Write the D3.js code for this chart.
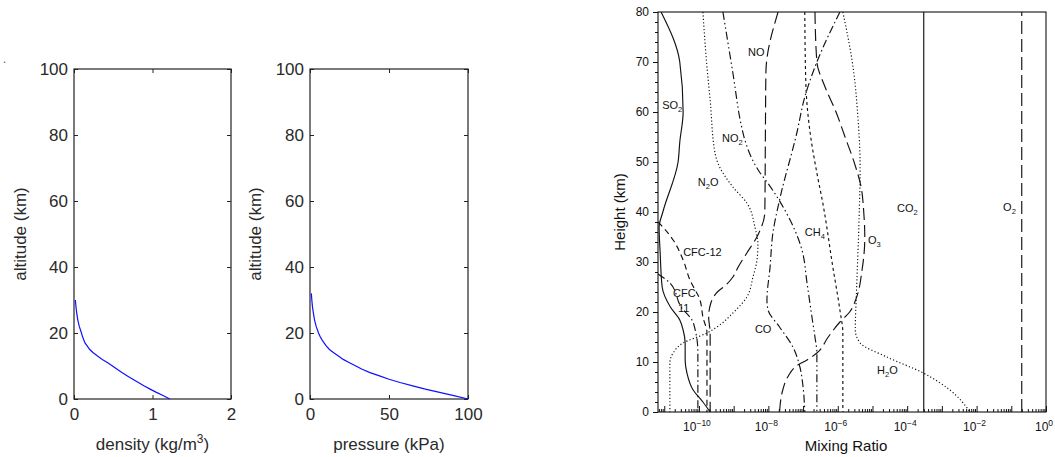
<!DOCTYPE html>
<html>
<head>
<meta charset="utf-8">
<script src="https://cdn.jsdelivr.net/npm/d3@7"></script>
<style>
  body { margin: 0; background: #fff; }
  svg { display: block; }
</style>
</head>
<body>
<svg id="chart" width="1055" height="457"></svg>
<script>

// ---- Left panels: standard atmosphere ----
var densityAltitude = [0,1,2,3,4,5,6,7,8,9,10,11,12,13,14,15,16,17,18,19,20,22,24,26,28,30];
var densityValue = [1.22,1.14,1.05,0.97,0.89,0.82,0.75,0.68,0.61,0.55,0.49,0.43,0.36,0.30,0.245,0.20,0.17,0.14,0.123,0.107,0.095,0.067,0.048,0.035,0.025,0.017];

var pressureAltitude = [0,1,2,3,4,5,6,7,8,9,10,11,12,13,14,15,16,17,18,19,20,22,24,26,28,30,32];
var pressureValue = [100,91,82,73,65,57,50,44,38,33,29,25,21,18,15,12.3,10.4,8.9,7.5,6.3,5.4,3.9,2.85,2.15,1.55,1.15,0.85];

var altitudeTicks = [0,20,40,60,80,100];
var densityTicks = [0,1,2];
var pressureTicks = [0,50,100];

// ---- Right panel: mixing ratio profiles (height km, mixing ratio) ----
var so2Height = [80,70,60,54,50,40,37,32,25,21,18.4,16.4,13.8,10.4,7.8,4.4,2,0];
var so2Ratio = [8.1e-12,2.8e-11,3.5e-11,2.8e-11,2.5e-11,9.1e-12,7.1e-12,7.6e-12,8.7e-12,1.5e-11,2.8e-11,3.5e-11,4.0e-11,4.0e-11,4.5e-11,6.8e-11,1.3e-10,2.1e-10];

var cfc11Height = [27.6,25.8,20.8,18.4,16.4,12,0];
var cfc11Ratio = [6.6e-12,1.45e-11,3.2e-11,6.3e-11,7.8e-11,9.3e-11,9.3e-11];

var cfc12Height = [38,37,34.4,30.4,26.4,22.4,19,15.8,0];
var cfc12Ratio = [6.6e-12,9.1e-12,1.8e-11,3.5e-11,5.5e-11,1.07e-10,1.3e-10,1.7e-10,1.7e-10];

var noHeight = [80,68,55,40,35.4,31.8,29,27,25.4,24,21.8,19,15.8,0];
var noRatio = [1.9e-8,8.5e-9,8.2e-9,7.9e-9,5.0e-9,2.4e-9,1.35e-9,9.5e-10,6.0e-10,3.4e-10,2.2e-10,1.9e-10,2.1e-10,2.1e-10];

var n2oHeight = [80,69,62.4,51.8,49.8,45,41.8,37,33.4,30.4,27,23,19.8,17,15.8,13.8,11.8,9.8,0];
var n2oRatio = [1.3e-10,1.7e-10,2.1e-10,2.9e-10,3.5e-10,9.5e-10,2.4e-9,4.1e-9,5.0e-9,4.7e-9,3.6e-9,2.4e-9,9.5e-10,3.3e-10,1.7e-10,3.5e-11,1.8e-11,1.45e-11,1.45e-11];

var no2Height = [80,67.8,57,54.4,47.8,46,40,32.4,25.8,19,15,11.8,0];
var no2Ratio = [4.9e-10,9.5e-10,1.7e-9,2.1e-9,5.8e-9,9.1e-9,3.2e-8,9.3e-8,1.3e-7,1.8e-7,2.2e-7,2.5e-7,2.5e-7];

var ch4Height = [80,65.8,55.8,47.8,41.8,29,20.4,15.8,0];
var ch4Ratio = [1.12e-7,1.2e-7,1.6e-7,2.5e-7,3.7e-7,7.2e-7,1.15e-6,1.4e-6,1.4e-6];

var o3Height = [80,70,65,60,55,50,45,40,35,31,28.4,23,20,18,15,11.8,10.4,9.4,7,4.4,0];
var o3Ratio = [2.2e-7,2.5e-7,4.3e-7,8.9e-7,1.62e-6,2.95e-6,4.7e-6,5.6e-6,6.0e-6,5.6e-6,5.0e-6,3.5e-6,2.2e-6,1.15e-6,5.3e-7,2.5e-7,1.3e-7,7.1e-8,3.6e-8,2.6e-8,2.1e-8];

var coHeight = [80,70,63,55.8,42.4,35.8,29,22.4,20.4,17,13,9,5,0];
var coRatio = [1.15e-6,2.5e-7,1.12e-7,6.6e-8,2.1e-8,1.35e-8,1.12e-8,9.1e-9,9.8e-9,2.1e-8,5.1e-8,8.1e-8,1.0e-7,1.12e-7];

var h2oHeight = [80,69,59,49,38.4,25,16.4,13.8,11,7.8,4.4,0];
var h2oRatio = [1.4e-6,2.75e-6,3.8e-6,4.4e-6,4.1e-6,3.5e-6,3.2e-6,4.4e-6,2.6e-5,2.9e-4,1.7e-3,6.5e-3];

var co2Height = [0,80];
var co2Ratio = [3.0e-4,3.0e-4];

var o2Height = [0,80];
var o2Ratio = [0.2,0.2];

// label text: [main, subscript, trailing, ratio, height]
var speciesLabels = [
  ["SO","2","",8.7e-12,61.4],
  ["NO","","",2.6e-9,72],
  ["NO","2","",4.6e-10,54.8],
  ["N","2","O",9.3e-11,46],
  ["CFC-12","","",3.5e-11,32],
  ["CFC","","",1.8e-11,23.8],
  ["11","","",2.5e-11,20.8],
  ["CO","","",4.1e-9,16.6],
  ["CH","4","",1.12e-7,36],
  ["O","3","",7.4e-6,34.4],
  ["H","2","O",1.35e-5,8.4],
  ["CO","2","",5.1e-5,40.8],
  ["O","2","",0.058,41]
];

var heightTicks = [0,10,20,30,40,50,60,70,80];
var ratioLabelExponents = [-10,-8,-6,-4,-2,0];

var FONT = "'Liberation Sans', Arial, Helvetica, sans-serif";
var svg = d3.select("#chart");

// stray mark in the top-left corner of the original
svg.append("text").attr("x", 3).attr("y", 63).attr("font-size", 12)
  .attr("fill", "#555").text(".");

// ---- Left panels ----
function drawPanel(x0, x1, xDomain, xTicks, alt, val, xLabel, xSup, xTail, yLabelX) {
  var pTop = 69, pBottom = 399;
  var x = d3.scaleLinear().domain(xDomain).range([x0, x1]);
  var y = d3.scaleLinear().domain([0, 100]).range([pBottom, pTop]);
  var g = svg.append("g");

  g.append("g").attr("transform", "translate(0," + pBottom + ")")
    .call(d3.axisBottom(x).tickValues(xTicks).tickFormat(d3.format("d"))
      .tickSizeInner(-4).tickSizeOuter(0).tickPadding(9));
  g.append("g").attr("transform", "translate(0," + pTop + ")")
    .call(d3.axisTop(x).tickValues(xTicks).tickSizeInner(-4).tickSizeOuter(0).tickFormat(""));
  g.append("g").attr("transform", "translate(" + x0 + ",0)")
    .call(d3.axisLeft(y).tickValues(altitudeTicks).tickSizeInner(-4).tickSizeOuter(0).tickPadding(6));
  g.append("g").attr("transform", "translate(" + x1 + ",0)")
    .call(d3.axisRight(y).tickValues(altitudeTicks).tickSizeInner(-4).tickSizeOuter(0).tickFormat(""));

  g.selectAll(".domain").remove();
  g.selectAll(".tick line").attr("stroke", "#222");
  g.selectAll(".tick text").attr("font-size", 17).attr("font-family", FONT).attr("fill", "#2a2a2a");

  g.append("rect")
    .attr("x", x0).attr("y", pTop)
    .attr("width", x1 - x0).attr("height", pBottom - pTop)
    .attr("fill", "none").attr("stroke", "#222").attr("stroke-width", 1.2);

  var line = d3.line()
    .x(function(d) { return x(d[1]); })
    .y(function(d) { return y(d[0]); });

  g.append("path")
    .datum(d3.zip(alt, val))
    .attr("d", line)
    .attr("fill", "none")
    .attr("stroke", "#1010ff")
    .attr("stroke-width", 1.2);

  var xl = g.append("text")
    .attr("x", (x0 + x1) / 2).attr("y", 450)
    .attr("text-anchor", "middle")
    .attr("font-family", FONT).attr("font-size", 17).attr("fill", "#2a2a2a")
    .text(xLabel);
  if (xSup) {
    xl.append("tspan").attr("dy", -7).attr("font-size", 12).text(xSup);
    xl.append("tspan").attr("dy", 7).text(xTail);
  }

  g.append("text")
    .attr("transform", "translate(" + yLabelX + "," + ((pTop + pBottom) / 2) + ") rotate(-90)")
    .attr("text-anchor", "middle")
    .attr("font-family", FONT).attr("font-size", 17).attr("fill", "#2a2a2a")
    .text("altitude (km)");
}

drawPanel(74, 231, [0, 2], densityTicks, densityAltitude, densityValue, "density (kg/m", "3", ")", 26);
drawPanel(310, 468, [0, 100], pressureTicks, pressureAltitude, pressureValue, "pressure (kPa)", null, null, 261);

// ---- Right panel: mixing ratios ----
var mrLeft = 658, mrRight = 1046, mrTop = 12, mrBottom = 412;
var x = d3.scaleLog().domain([6.6e-12, 1]).range([mrLeft, mrRight]);
var y = d3.scaleLinear().domain([0, 80]).range([mrBottom, mrTop]);

var mr = svg.append("g");

mr.append("clipPath").attr("id", "mrclip")
  .append("rect").attr("x", mrLeft).attr("y", mrTop)
  .attr("width", mrRight - mrLeft).attr("height", mrBottom - mrTop);

var allTicks = x.ticks(20);
function isDecade(t) {
  var l = Math.log10(t);
  return Math.abs(l - Math.round(l)) < 1e-6;
}
var decadeTicks = allTicks.filter(isDecade);
var minorTicks = allTicks.filter(function(t) { return !isDecade(t); });

mr.append("g").attr("class", "x minor").attr("transform", "translate(0," + mrBottom + ")")
  .call(d3.axisBottom(x).tickValues(minorTicks).tickSizeInner(-3).tickSizeOuter(0).tickFormat(""));
mr.append("g").attr("class", "x major").attr("transform", "translate(0," + mrBottom + ")")
  .call(d3.axisBottom(x).tickValues(decadeTicks).tickSizeInner(-6).tickSizeOuter(0).tickFormat(""));

mr.append("g").attr("class", "y minor").attr("transform", "translate(" + mrLeft + ",0)")
  .call(d3.axisLeft(y).tickValues(d3.range(0, 81, 2)).tickSizeInner(3).tickSizeOuter(0).tickFormat(""));
mr.append("g").attr("class", "y major").attr("transform", "translate(" + mrLeft + ",0)")
  .call(d3.axisLeft(y).tickValues(heightTicks).tickSizeInner(5).tickSizeOuter(0).tickPadding(4));

mr.selectAll(".domain").remove();
mr.selectAll(".tick line").attr("stroke", "#111");
mr.selectAll(".tick text").attr("font-size", 12).attr("font-family", FONT).attr("fill", "#111");

// decade labels 10^k
ratioLabelExponents.forEach(function(k) {
  var t = mr.append("text")
    .attr("x", x(Math.pow(10, k)) - 2).attr("y", 431)
    .attr("text-anchor", "middle")
    .attr("font-family", FONT).attr("font-size", 12).attr("fill", "#111")
    .text("10");
  t.append("tspan").attr("dy", -5).attr("font-size", 8.5)
    .text(k === 0 ? "0" : "\u2212" + Math.abs(k));
});

// frame
mr.append("rect")
  .attr("x", mrLeft).attr("y", mrTop)
  .attr("width", mrRight - mrLeft).attr("height", mrBottom - mrTop)
  .attr("fill", "none").attr("stroke", "#111").attr("stroke-width", 1.1);

// profiles
var species = [
  { h: so2Height, v: so2Ratio, dash: null },
  { h: co2Height, v: co2Ratio, dash: null },
  { h: o2Height, v: o2Ratio, dash: "13,5" },
  { h: noHeight, v: noRatio, dash: "12,5" },
  { h: o3Height, v: o3Ratio, dash: "12,5" },
  { h: cfc12Height, v: cfc12Ratio, dash: "6,4" },
  { h: cfc11Height, v: cfc11Ratio, dash: "8,3,1.5,3" },
  { h: coHeight, v: coRatio, dash: "8,3,1.5,3" },
  { h: no2Height, v: no2Ratio, dash: "8,3,1.5,3,1.5,3" },
  { h: ch4Height, v: ch4Ratio, dash: "3,3" },
  { h: n2oHeight, v: n2oRatio, dash: "1.2,2.2" },
  { h: h2oHeight, v: h2oRatio, dash: "1.2,2.2" }
];

var profile = d3.line()
  .curve(d3.curveMonotoneY)
  .x(function(d) { return x(d[1]); })
  .y(function(d) { return y(d[0]); });

mr.append("g").attr("clip-path", "url(#mrclip)")
  .selectAll("path")
  .data(species)
  .enter()
  .append("path")
  .attr("d", function(s) { return profile(d3.zip(s.h, s.v)); })
  .attr("fill", "none")
  .attr("stroke", "#111")
  .attr("stroke-width", 1.15)
  .attr("stroke-dasharray", function(s) { return s.dash; });

// species labels
speciesLabels.forEach(function(l) {
  var t = mr.append("text")
    .attr("x", x(l[3])).attr("y", y(l[4]) + 4)
    .attr("font-family", FONT).attr("font-size", 11).attr("fill", "#111")
    .text(l[0]);
  if (l[1]) {
    t.append("tspan").attr("dy", 3).attr("font-size", 7.5).text(l[1]);
    if (l[2]) t.append("tspan").attr("dy", -3).text(l[2]);
  }
});

// axis titles
mr.append("text")
  .attr("transform", "translate(625," + ((mrTop + mrBottom) / 2) + ") rotate(-90)")
  .attr("text-anchor", "middle")
  .attr("font-family", FONT).attr("font-size", 15).attr("fill", "#111")
  .text("Height (km)");

mr.append("text")
  .attr("x", 846).attr("y", 451)
  .attr("text-anchor", "middle")
  .attr("font-family", FONT).attr("font-size", 15).attr("fill", "#111")
  .text("Mixing Ratio");

</script>
</body>
</html>
